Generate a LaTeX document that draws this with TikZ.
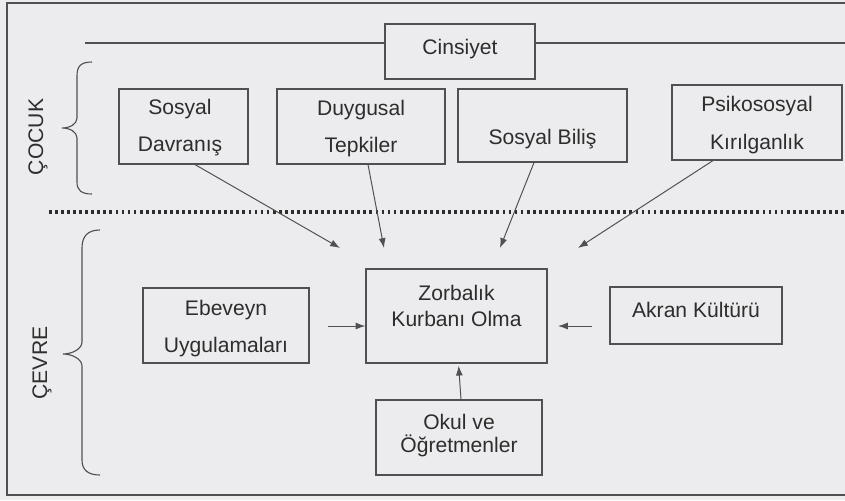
\documentclass[tikz,border=0pt]{standalone}
\usepackage{fontspec}
\setmainfont{Liberation Sans}
\usetikzlibrary{arrows.meta}
\definecolor{bg}{RGB}{236,236,238}
\definecolor{ln}{RGB}{80,80,80}
\definecolor{tx}{RGB}{45,45,45}
\begin{document}
\begin{tikzpicture}[x=0.025cm,y=-0.025cm,
  box/.style={draw=ln, line width=0.8pt, inner sep=0pt},
  txt/.style={font=\fontsize{15}{18}\selectfont, text=tx, align=center, inner sep=0pt},
  arr/.style={draw=ln, line width=0.7pt, -{Latex[length=7pt,width=5pt]}},
  framel/.style={draw=ln, line width=1pt},
  bracel/.style={draw=ln, line width=0.8pt},
  side/.style={font=\fontsize{15}{18}\selectfont, text=tx, rotate=90, inner sep=0pt}]
\fill[bg] (0,0) rectangle (845,500);
\useasboundingbox (0,0) rectangle (845,500);

% frame
\draw[framel] (845,3) -- (7,3) -- (7,495) -- (845,495);

% boxes
\node[box, minimum width=3.75cm,  minimum height=1.375cm] (cin) at (460,51.5) {};
\node[box, minimum width=3.225cm, minimum height=1.875cm] (sd)  at (183.5,126.5) {};
\node[box, minimum width=4.2cm,   minimum height=1.875cm] (dt)  at (361,126.5) {};
\node[box, minimum width=4.225cm, minimum height=1.825cm] (sb)  at (542.5,125.5) {};
\node[box, minimum width=4.25cm,  minimum height=1.875cm] (pk)  at (757,122.5) {};
\node[box, minimum width=4.525cm, minimum height=2.35cm]  (zk)  at (456.5,316) {};
\node[box, minimum width=4.15cm,  minimum height=1.875cm] (eb)  at (226,325.5) {};
\node[box, minimum width=4.3cm,   minimum height=1.425cm] (ak)  at (696,315.5) {};
\node[box, minimum width=4.15cm,  minimum height=1.875cm] (ok)  at (459,437.5) {};

% texts
\node[txt] (cinT) at (460,49) {Cinsiyet};
\node[txt] (sdT) at (180,128) {Sosyal\\[8.3pt]Davranış};
\node[txt] (dtT) at (361,129) {Duygusal\\[8.3pt]Tepkiler};
\node[txt] (sbT) at (542.5,139) {Sosyal Biliş};
\node[txt] (pkT) at (757,125) {Psikososyal\\[8.8pt]Kırılganlık};
\node[txt] (zkT) at (456.5,306) {Zorbalık\\Kurbanı Olma};
\node[txt] (ebT) at (226,329) {Ebeveyn\\[8.3pt]Uygulamaları};
\node[txt] (akT) at (696,310) {Akran Kültürü};
\node[txt] (okT) at (459,436) {Okul ve\\[-1.6pt]Öğretmenler};

% gender line
\coordinate (hl) at (85,43);
\coordinate (hr) at (845,43);
\draw[framel] (hl) -- (hl -| cin.west);
\draw[framel] (cin.east |- hr) -- (hr);

% dotted separator
\coordinate (dl) at (49,212);
\coordinate (dr) at (845,212);
\draw[tx, line width=2.2pt, dash pattern=on 2pt off 2.3pt] (dl) -- (dr);

% braces
\draw[bracel] (92,62) .. controls (81,62) and (77,66) .. (77,76) -- (77,118)
  .. controls (77,124) and (70,128) .. (62,128)
  .. controls (70,128) and (77,132) .. (77,138) -- (77,182)
  .. controls (77,190) and (81,194) .. (92,194);
\draw[bracel] (100,230) .. controls (88,230) and (82,236) .. (82,248) -- (82,342)
  .. controls (82,349) and (72,354) .. (63,354)
  .. controls (72,354) and (82,359) .. (82,366) -- (82,460)
  .. controls (82,470) and (88,475) .. (100,475);
\node[side] (cocuk) at (38,137) {ÇOCUK};
\node[side] (cevre) at (42,363) {ÇEVRE};

% arrows from child factors
\coordinate (t1) at (340,248);
\coordinate (t2) at (384,248);
\coordinate (t3) at (500,248);
\coordinate (t4) at (578,248);
\draw[arr] ([xshift=0.2875cm]sd.south) -- (t1);
\draw[arr] ([xshift=0.175cm]dt.south) -- (t2);
\draw[arr] ([xshift=-0.2125cm]sb.south) -- (t3);
\draw[arr] ([xshift=-1.1cm]pk.south) -- (t4);

% environment arrows
\coordinate (e1) at (328,326);
\draw[arr] (e1) -- (e1 -| zk.west);
\coordinate (a1) at (592,326);
\coordinate (a2) at (558,326);
\draw[arr] (a1) -- (a2);
\draw[arr, shorten >=1.5pt] ([xshift=0.05cm]ok.north) -- ([xshift=0.05cm]zk.south);
\end{tikzpicture}
\end{document}
